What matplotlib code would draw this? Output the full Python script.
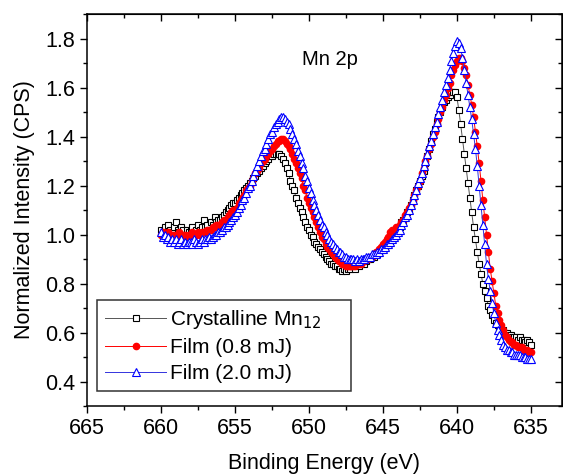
import numpy as np
import matplotlib
matplotlib.use('Agg')
import matplotlib.pyplot as plt
from matplotlib.ticker import MultipleLocator

plt.rcParams['font.family'] = ['Liberation Sans', 'DejaVu Sans']

# binding energy grid (eV), 660 -> 635 in 0.125 eV steps (8 points per row)
energy = np.linspace(660.0, 635.0, 201)

crystalline = [
    1.02, 1.00, 1.03, 1.01, 1.04, 1.02, 1.01, 1.03,
    1.05, 1.02, 1.01, 1.03, 1.02, 1.00, 1.02, 1.01,
    1.02, 1.03, 1.01, 1.02, 1.04, 1.02, 1.03, 1.06,
    1.03, 1.04, 1.02, 1.05, 1.04, 1.07, 1.05, 1.06,
    1.06, 1.07, 1.08, 1.09, 1.10, 1.11, 1.12, 1.13,
    1.13, 1.14, 1.15, 1.16, 1.17, 1.18, 1.19, 1.20,
    1.21, 1.22, 1.23, 1.24, 1.25, 1.26, 1.27, 1.28,
    1.29, 1.30, 1.31, 1.32, 1.32, 1.33, 1.33, 1.33,
    1.33, 1.32, 1.31, 1.29, 1.27, 1.25, 1.22, 1.20,
    1.18, 1.15, 1.13, 1.11, 1.09, 1.07, 1.05, 1.03,
    1.02, 1.00, 0.99, 0.97, 0.96, 0.95, 0.94, 0.93,
    0.92, 0.91, 0.90, 0.89, 0.88, 0.88, 0.87, 0.87,
    0.86, 0.86, 0.85, 0.86, 0.85, 0.86, 0.86, 0.87,
    0.87, 0.86, 0.88, 0.87, 0.88, 0.89, 0.88, 0.89,
    0.90, 0.90, 0.91, 0.91, 0.92, 0.92, 0.93, 0.94,
    0.95, 0.95, 0.96, 0.97, 0.98, 0.99, 1.00, 1.01,
    1.02, 1.03, 1.05, 1.06, 1.07, 1.09, 1.10, 1.12,
    1.14, 1.16, 1.18, 1.20, 1.22, 1.24, 1.26, 1.29,
    1.32, 1.35, 1.38, 1.41, 1.43, 1.46, 1.48, 1.50,
    1.52, 1.54, 1.55, 1.56, 1.57, 1.58, 1.58, 1.58,
    1.56, 1.51, 1.45, 1.39, 1.33, 1.27, 1.21, 1.15,
    1.09, 1.03, 0.98, 0.93, 0.88, 0.84, 0.80, 0.77,
    0.74, 0.71, 0.69, 0.67, 0.65, 0.64, 0.63, 0.62,
    0.61, 0.61, 0.60, 0.60, 0.59, 0.59, 0.58, 0.58,
    0.58, 0.57, 0.58, 0.57, 0.57, 0.56, 0.57, 0.56, 0.55,
]

film_08 = [
    1.00, 1.01, 0.99, 1.00, 1.01, 0.99, 1.00, 1.00,
    0.99, 1.00, 1.01, 0.99, 1.00, 1.00, 0.99, 1.00,
    1.00, 1.01, 1.00, 1.00, 1.01, 1.00, 1.01, 1.01,
    1.01, 1.02, 1.02, 1.02, 1.03, 1.03, 1.04, 1.04,
    1.04, 1.05, 1.06, 1.06, 1.07, 1.08, 1.09, 1.10,
    1.10, 1.11, 1.13, 1.14, 1.15, 1.16, 1.18, 1.19,
    1.20, 1.22, 1.23, 1.25, 1.26, 1.27, 1.29, 1.30,
    1.31, 1.32, 1.33, 1.34, 1.35, 1.36, 1.37, 1.38,
    1.38, 1.39, 1.39, 1.38, 1.37, 1.36, 1.35, 1.33,
    1.31, 1.29, 1.27, 1.25, 1.23, 1.20, 1.18, 1.15,
    1.13, 1.11, 1.09, 1.07, 1.05, 1.03, 1.01, 0.99,
    0.98, 0.96, 0.95, 0.94, 0.93, 0.92, 0.91, 0.90,
    0.89, 0.89, 0.88, 0.88, 0.87, 0.87, 0.87, 0.87,
    0.87, 0.87, 0.88, 0.88, 0.88, 0.89, 0.89, 0.90,
    0.90, 0.91, 0.91, 0.92, 0.93, 0.93, 0.94, 0.95,
    0.96, 0.97, 0.98, 0.99, 1.01, 1.02, 1.02, 1.03,
    1.03, 1.04, 1.05, 1.06, 1.08, 1.09, 1.11, 1.12,
    1.14, 1.16, 1.18, 1.20, 1.22, 1.25, 1.27, 1.30,
    1.32, 1.35, 1.37, 1.40, 1.42, 1.45, 1.47, 1.50,
    1.52, 1.55, 1.57, 1.60, 1.62, 1.65, 1.67, 1.69,
    1.71, 1.72, 1.72, 1.71, 1.68, 1.65, 1.61, 1.57,
    1.53, 1.48, 1.42, 1.36, 1.29, 1.22, 1.14, 1.07,
    1.00, 0.93, 0.86, 0.81, 0.76, 0.71, 0.68, 0.65,
    0.63, 0.61, 0.59, 0.58, 0.57, 0.56, 0.56, 0.55,
    0.55, 0.54, 0.54, 0.54, 0.53, 0.53, 0.53, 0.52, 0.52,
]

film_20 = [
    1.01, 0.99, 1.00, 0.98, 0.99, 0.97, 0.98, 0.97,
    0.98, 0.96, 0.97, 0.98, 0.96, 0.97, 0.96, 0.97,
    0.97, 0.96, 0.98, 0.97, 0.96, 0.97, 0.98, 0.97,
    0.98, 0.98, 0.99, 0.98, 0.99, 1.00, 1.00, 1.01,
    1.01, 1.02, 1.03, 1.03, 1.04, 1.05, 1.06, 1.07,
    1.08, 1.09, 1.11, 1.12, 1.14, 1.15, 1.17, 1.19,
    1.20, 1.22, 1.24, 1.26, 1.28, 1.30, 1.32, 1.34,
    1.35, 1.37, 1.39, 1.41, 1.42, 1.44, 1.45, 1.46,
    1.47, 1.48, 1.48, 1.47, 1.46, 1.45, 1.43, 1.41,
    1.39, 1.37, 1.34, 1.32, 1.29, 1.27, 1.24, 1.22,
    1.19, 1.17, 1.14, 1.12, 1.10, 1.08, 1.06, 1.04,
    1.03, 1.01, 1.00, 0.98, 0.97, 0.96, 0.95, 0.94,
    0.93, 0.93, 0.92, 0.91, 0.91, 0.90, 0.90, 0.90,
    0.90, 0.89, 0.90, 0.89, 0.90, 0.90, 0.90, 0.91,
    0.91, 0.91, 0.92, 0.92, 0.92, 0.93, 0.93, 0.94,
    0.94, 0.95, 0.96, 0.96, 0.97, 0.98, 0.99, 1.00,
    1.01, 1.02, 1.04, 1.05, 1.07, 1.08, 1.10, 1.12,
    1.14, 1.16, 1.18, 1.21, 1.23, 1.25, 1.28, 1.30,
    1.33, 1.36, 1.38, 1.41, 1.44, 1.46, 1.49, 1.52,
    1.55, 1.58, 1.61, 1.64, 1.67, 1.71, 1.74, 1.77,
    1.79, 1.78, 1.76, 1.72, 1.67, 1.62, 1.57, 1.52,
    1.47, 1.41, 1.35, 1.28, 1.20, 1.12, 1.04, 0.96,
    0.88, 0.82, 0.77, 0.72, 0.68, 0.64, 0.61, 0.59,
    0.57, 0.55, 0.54, 0.53, 0.53, 0.52, 0.52, 0.51,
    0.51, 0.51, 0.51, 0.50, 0.50, 0.50, 0.49, 0.49, 0.49,
]

fig = plt.figure(figsize=(5.63, 4.76), dpi=100)
ax = fig.add_axes([0.1545, 0.147, 0.8437, 0.8235])

ax.plot(energy, crystalline, color='#555555', linewidth=0.7, marker='s',
        markersize=5, markerfacecolor='white', markeredgecolor='black',
        markeredgewidth=0.8, label='Crystalline Mn$_{12}$')
ax.plot(energy, film_08, color='red', linewidth=0.7, marker='o',
        markersize=4.5, markerfacecolor='red', markeredgecolor='red',
        label='Film (0.8 mJ)')
ax.plot(energy, film_20, color='#3333dd', linewidth=0.7, marker='^',
        markersize=5.5, markerfacecolor='white', markeredgecolor='blue',
        markeredgewidth=0.8, label='Film (2.0 mJ)')

ax.set_xlim(665, 632.9)
ax.set_ylim(0.3, 1.9)
ax.xaxis.set_major_locator(MultipleLocator(5))
ax.xaxis.set_minor_locator(MultipleLocator(2.5))
ax.yaxis.set_major_locator(MultipleLocator(0.2))
ax.yaxis.set_minor_locator(MultipleLocator(0.1))
ax.tick_params(which='both', direction='out', labelsize=15.5, width=1)
ax.tick_params(which='major', length=5)
ax.tick_params(which='minor', length=3)

# mirrored ticks on top and right, pointing inwards
top = ax.secondary_xaxis('top')
top.xaxis.set_major_locator(MultipleLocator(5))
top.xaxis.set_minor_locator(MultipleLocator(2.5))
top.tick_params(which='both', direction='in', labeltop=False, width=1)
top.tick_params(which='major', length=5)
top.tick_params(which='minor', length=3)
right = ax.secondary_yaxis('right')
right.yaxis.set_major_locator(MultipleLocator(0.2))
right.yaxis.set_minor_locator(MultipleLocator(0.1))
right.tick_params(which='both', direction='in', labelright=False, width=1)
right.tick_params(which='major', length=5)
right.tick_params(which='minor', length=3)

for sp in ax.spines.values():
    sp.set_linewidth(1.1)

ax.set_xlabel('Binding Energy (eV)', fontsize=15.5, labelpad=10)
ax.set_ylabel('Normalized Intensity (CPS)', fontsize=15.5, labelpad=7)

ax.text(650.5, 1.714, 'Mn 2p', fontsize=14.5, ha='left', va='center')

leg = ax.legend(loc='lower left', bbox_to_anchor=(0.021, 0.038, 0.535, 0.245),
                mode='expand', fontsize=15, fancybox=False, framealpha=1,
                edgecolor='#333333', handlelength=2.9, handletextpad=0.2,
                borderaxespad=0, labelspacing=0.33, borderpad=0.4,
                numpoints=1)
leg.get_frame().set_linewidth(1.1)

fig.savefig('out.png', dpi=100)
